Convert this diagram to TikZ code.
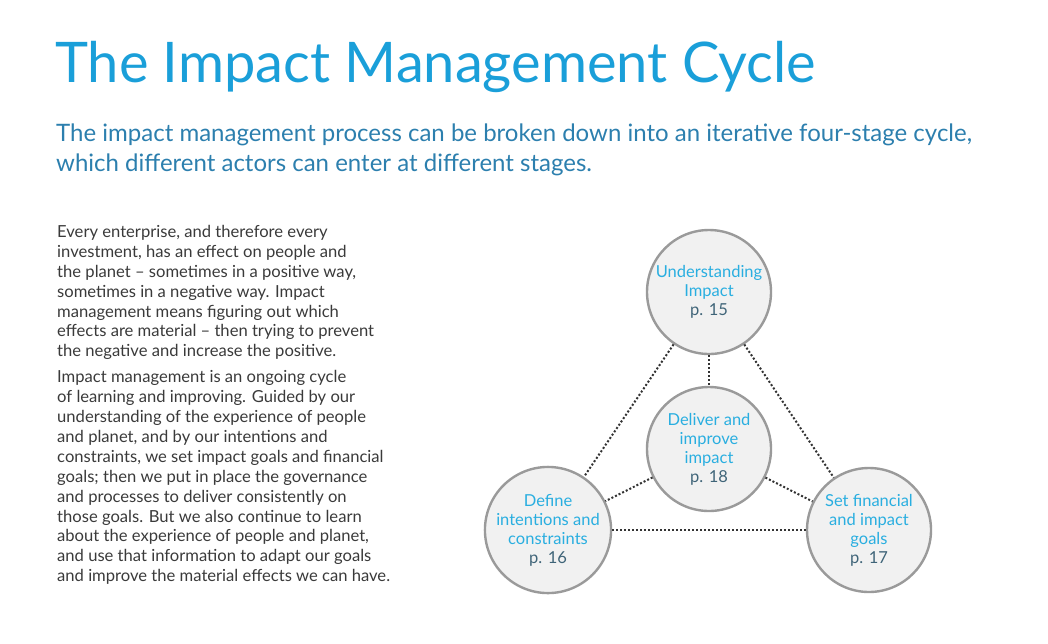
\documentclass[tikz,border=0pt]{standalone}
\usepackage{fontspec}
\setmainfont{Lato}
\usepackage{xcolor}
\usetikzlibrary{positioning}
\definecolor{titleblue}{HTML}{1A9FD9}
\definecolor{subblue}{HTML}{2C7FAE}
\definecolor{stageblue}{HTML}{29AEE0}
\definecolor{pagegray}{HTML}{3F6478}
\definecolor{bodygray}{HTML}{3A3A3A}
\definecolor{ringgray}{HTML}{9A9A9A}
\definecolor{fillgray}{HTML}{F1F1F1}
\tikzset{
  stage/.style={circle, draw=ringgray, line width=2.4pt, fill=fillgray,
    minimum size=124pt, inner sep=0pt, align=center, text=stageblue,
    font=\fontsize{16.5}{19}\selectfont},
  link/.style={dotted, line width=2pt, draw=black!80}
}
\begin{document}
\begin{tikzpicture}[x=1pt, y=-1pt]
\useasboundingbox (0,0) rectangle (1048,643);

% Title and subtitle
\node[anchor=base west, inner sep=0pt, text=titleblue, font=\fontsize{56}{62}\selectfont] (title) at (55,82) {The Impact Management Cycle};
\node[anchor=north west, inner sep=0pt, text=subblue, align=left, font=\fontsize{24}{30}\selectfont] (subtitle) at (56,124) {The impact management process can be broken down into an iterative four-stage cycle,\\which different actors can enter at different stages.};

% Body text
\node[anchor=north west, inner sep=0pt, text=bodygray, align=left, font=\fontsize{16.6}{19.9}\selectfont] (body) at (57,225) {Every enterprise, and therefore every\\investment, has an effect on people and\\the planet -- sometimes in a positive way,\\sometimes in a negative way. Impact\\management means figuring out which\\effects are material -- then trying to prevent\\the negative and increase the positive.\\[6pt]
Impact management is an ongoing cycle\\of learning and improving. Guided by our\\understanding of the experience of people\\and planet, and by our intentions and\\constraints, we set impact goals and financial\\goals; then we put in place the governance\\and processes to deliver consistently on\\those goals. But we also continue to learn\\about the experience of people and planet,\\and use that information to adapt our goals\\and improve the material effects we can have.};

% Stages
\node[stage] (understand) at (709,292) {Understanding\\Impact\\\textcolor{pagegray}{p. 15}};
\node[stage] (deliver) at (709,449) {Deliver and\\improve\\impact\\\textcolor{pagegray}{p. 18}};
\node[stage] (define) at (548,530) {Define\\intentions and\\constraints\\\textcolor{pagegray}{p. 16}};
\node[stage] (goals) at (869,530) {Set financial\\and impact\\goals\\\textcolor{pagegray}{p. 17}};

% Dotted links
\draw[link] (understand) -- (define);
\draw[link] (understand) -- (goals);
\draw[link] (understand) -- (deliver);
\draw[link] (deliver) -- (define);
\draw[link] (deliver) -- (goals);
\draw[link] (define) -- (goals);

\end{tikzpicture}
\end{document}
